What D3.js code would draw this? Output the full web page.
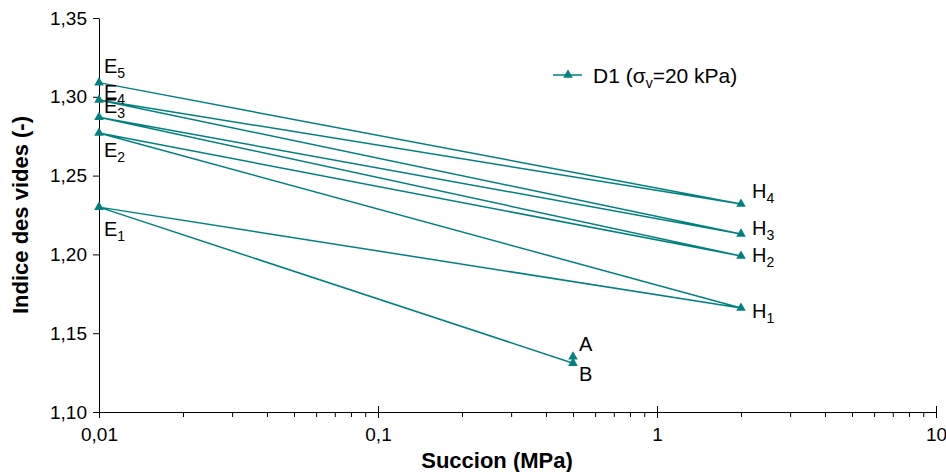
<!DOCTYPE html>
<html><head><meta charset="utf-8">
<script src="https://cdn.jsdelivr.net/npm/d3@7"></script>
<style>body{margin:0;background:#fff}svg{display:block;font-family:"Liberation Sans",Arial,sans-serif}</style>
</head><body><svg id="c" width="946" height="472"></svg>
<script>
// ---- data ----
const pointNames = ["A","B","E1","H1","E2","H2","E3","H3","E4","H4","E5"];
const suction    = [0.5, 0.5, 0.01, 2, 0.01, 2, 0.01, 2, 0.01, 2, 0.01];
const voidRatio  = [1.135,1.131,1.230,1.166,1.277,1.199,1.287,1.213,1.298,1.232,1.309];
const xTicks = [0.01, 0.1, 1, 10];
const yTicks = [1.10, 1.15, 1.20, 1.25, 1.30, 1.35];
const seriesName = ["D1 (σ", "v", "=20 kPa)"];
const xTitle = "Succion (MPa)";
const yTitle = "Indice des vides (-)";

// ---- style / layout ----
const color = "#008080";
const fs = 19, labFs = 20, legFs = 21, titleFs = 22;
const labelOffsets = { // pixel offsets of the point labels (annotation placement)
  A:[6,-6], B:[6,18], E1:[5,29], H1:[11,10], E2:[5,24], H2:[11,6], E3:[5,-4], H3:[11,1], E4:[5,-1], H4:[11,-6], E5:[5,-10]
};

const svg = d3.select("#c");
const x = d3.scaleLog().domain([0.01, 10]).range([99, 936]);
const y = d3.scaleLinear().domain([1.10, 1.35]).range([412, 18]);

const comma = d => String(+d.toFixed(2)).replace(".", ",");

// y axis
const gy = svg.append("g").attr("transform", `translate(${x(0.01)},0)`)
  .call(d3.axisLeft(y).tickValues(yTicks).tickSize(6).tickSizeOuter(0).tickPadding(6)
    .tickFormat(d => d3.format(".2f")(d).replace(".", ",")));
gy.selectAll("text").attr("font-size", fs).attr("font-family", "Liberation Sans, Arial, sans-serif").attr("fill", "#000");

// x axis minor ticks
const minor = [];
[0.01, 0.1, 1].forEach(dec => { for (let k = 2; k <= 9; k++) minor.push(dec * k); });
svg.append("g").attr("transform", `translate(0,${y(1.10)})`)
  .call(d3.axisBottom(x).tickValues(minor).tickSize(5).tickSizeOuter(0).tickFormat(""))
  .select(".domain").remove();
// x axis major
const gx = svg.append("g").attr("transform", `translate(0,${y(1.10)})`)
  .call(d3.axisBottom(x).tickValues(xTicks).tickSize(6).tickSizeOuter(0).tickPadding(10)
    .tickFormat(comma));
gx.selectAll("text").attr("font-size", fs).attr("font-family", "Liberation Sans, Arial, sans-serif").attr("fill", "#000");
gx.selectAll(".tick line").attr("y1", -6);
svg.selectAll(".domain, .tick line").attr("stroke", "#000");

// titles
svg.append("text").attr("x", 497).attr("y", 468).attr("text-anchor", "middle")
  .attr("font-size", titleFs).attr("font-weight", "bold").text(xTitle);
svg.append("text").attr("transform", `translate(28,${(y(1.10) + y(1.35)) / 2}) rotate(-90)`)
  .attr("text-anchor", "middle").attr("font-size", titleFs).attr("font-weight", "bold").text(yTitle);

// data
const pts = pointNames.map((n, i) => ({ name: n, s: suction[i], e: voidRatio[i] }));
svg.append("path").datum(pts)
  .attr("d", d3.line().x(d => x(d.s)).y(d => y(d.e)))
  .attr("fill", "none").attr("stroke", color).attr("stroke-width", 1.5);
const tri = d3.symbol(d3.symbolTriangle, 40);
svg.selectAll(".m").data(pts).join("path").attr("class", "m")
  .attr("d", tri).attr("transform", d => `translate(${x(d.s)},${y(d.e)})`).attr("fill", color);

// point labels
const lab = svg.selectAll(".lab").data(pts).join("text").attr("class", "lab")
  .attr("x", d => x(d.s) + labelOffsets[d.name][0])
  .attr("y", d => y(d.e) + labelOffsets[d.name][1])
  .attr("font-size", labFs);
lab.append("tspan").text(d => d.name[0]);
lab.append("tspan").attr("dy", 5).attr("font-size", 14).text(d => d.name.slice(1));

// legend
const lg = svg.append("g");
lg.append("line").attr("x1", 553).attr("x2", 582).attr("y1", 75).attr("y2", 75).attr("stroke", color).attr("stroke-width", 1.5);
lg.append("path").attr("d", tri).attr("transform", "translate(568,75)").attr("fill", color);
const lt = lg.append("text").attr("x", 593).attr("y", 83).attr("font-size", legFs);
lt.append("tspan").text(seriesName[0]);
lt.append("tspan").attr("dy", 5).attr("font-size", 14).text(seriesName[1]);
lt.append("tspan").attr("dy", -5).text(seriesName[2]);
</script></body></html>
